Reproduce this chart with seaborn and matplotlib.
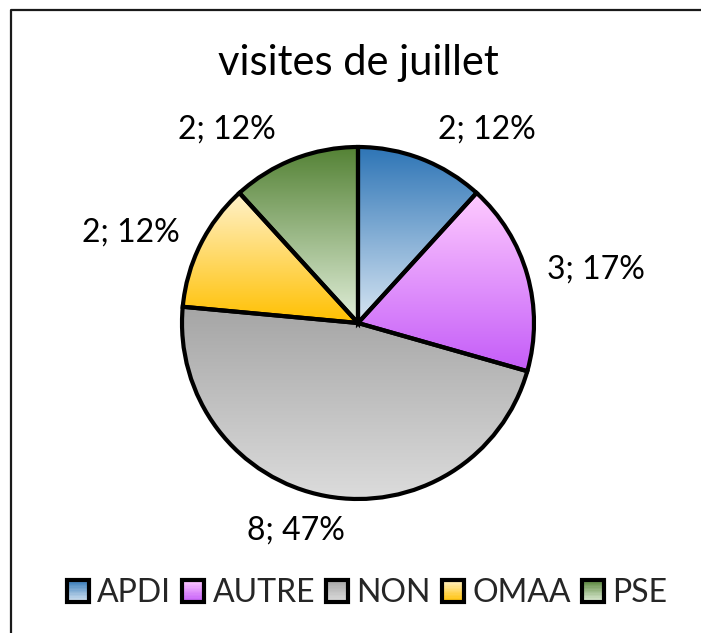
import numpy as np
import matplotlib
matplotlib.use("Agg")
import matplotlib.pyplot as plt
import seaborn as sns
from matplotlib.patches import Rectangle
from matplotlib.legend_handler import HandlerBase
from matplotlib.colors import to_rgb

# ---- data ----
categories = ["APDI", "AUTRE", "NON", "OMAA", "PSE"]
values = [2, 3, 8, 2, 2]
percent_labels = [12, 17, 47, 12, 12]
title = "visites de juillet"

# gradient colours (top -> bottom of each slice)
grad_top = ["#2E75B6", "#FFCCFF", "#A5A5A5", "#FFF2CC", "#548235"]
grad_bottom = ["#D8E6F3", "#C45CF8", "#DCDCDC", "#FFC000", "#E2EFDA"]

sns.set_theme(style="white")
plt.rcParams["font.family"] = ["Lato", "DejaVu Sans"]

W, H = 701, 633
fig = plt.figure(figsize=(W / 100, H / 100), dpi=100)
ax = fig.add_axes([0, 0, 1, 1])

cx, cy, R = 358, H - 323, 176
wedges, _ = ax.pie(values, startangle=90, counterclock=False,
                   center=(cx, cy), radius=R,
                   wedgeprops=dict(edgecolor="black", linewidth=3.0,
                                   facecolor="none", zorder=3))


def gradient(top, bottom, n=256):
    t = np.linspace(0, 1, n)[:, None]
    a, b = np.array(to_rgb(top)), np.array(to_rgb(bottom))
    img = a[None, :] * (1 - t) + b[None, :] * t
    return img[:, None, :].repeat(2, axis=1)


for w, top, bot in zip(wedges, grad_top, grad_bottom):
    ext = w.get_path().get_extents()
    im = ax.imshow(gradient(top, bot), extent=(ext.x0, ext.x1, ext.y0, ext.y1),
                   origin="upper", aspect="auto", interpolation="bilinear",
                   zorder=1)
    im.set_clip_path(w)

# data labels (positions are layout)
label_pos = [(487, 130), (596, 270), (296, 531), (131, 233), (227, 130)]
for v, p, (lx, ly) in zip(values, percent_labels, label_pos):
    ax.text(lx, H - ly, f"{v}; {p}%", ha="center", va="center",
            fontsize=23, color="black")

ax.text(358, H - 63, title, ha="center", va="center", fontsize=30, color="black")


class GradHandler(HandlerBase):
    def __init__(self, top, bottom):
        super().__init__()
        self.top, self.bottom = to_rgb(top), to_rgb(bottom)

    def create_artists(self, legend, orig_handle, xdescent, ydescent,
                       width, height, fontsize, trans):
        s = height
        x = -xdescent + (width - s) / 2
        y = -ydescent
        n = 16
        arts = []
        a, b = np.array(self.top), np.array(self.bottom)
        for i in range(n):
            t = (i + 0.5) / n
            c = a * (1 - t) + b * t
            arts.append(Rectangle((x, y + s * (1 - (i + 1) / n)), s, s / n + 0.2,
                                  facecolor=c, edgecolor="none", transform=trans))
        arts.append(Rectangle((x, y), s, s, facecolor="none", edgecolor="black",
                              linewidth=3.0, transform=trans))
        return arts


handles = [Rectangle((0, 0), 1, 1) for _ in categories]
hmap = {h: GradHandler(t, b) for h, t, b in zip(handles, grad_top, grad_bottom)}
ax.legend(handles, categories, handler_map=hmap, loc="center",
          bbox_to_anchor=(367 / W, 1 - 593 / H), bbox_transform=fig.transFigure,
          ncol=5, frameon=False, fontsize=23, handlelength=0.7,
          handleheight=0.7, handletextpad=0.25, columnspacing=0.35,
          borderaxespad=0, borderpad=0)

# chart frame (left and top edges visible)
ax.plot([11, 11, W + 10], [-10, H - 10, H - 10], color="#1a1a1a", lw=1.6,
        clip_on=False, zorder=5)

ax.set_xlim(0, W)
ax.set_ylim(0, H)
ax.set_axis_off()

fig.savefig("out.png", dpi=100)
